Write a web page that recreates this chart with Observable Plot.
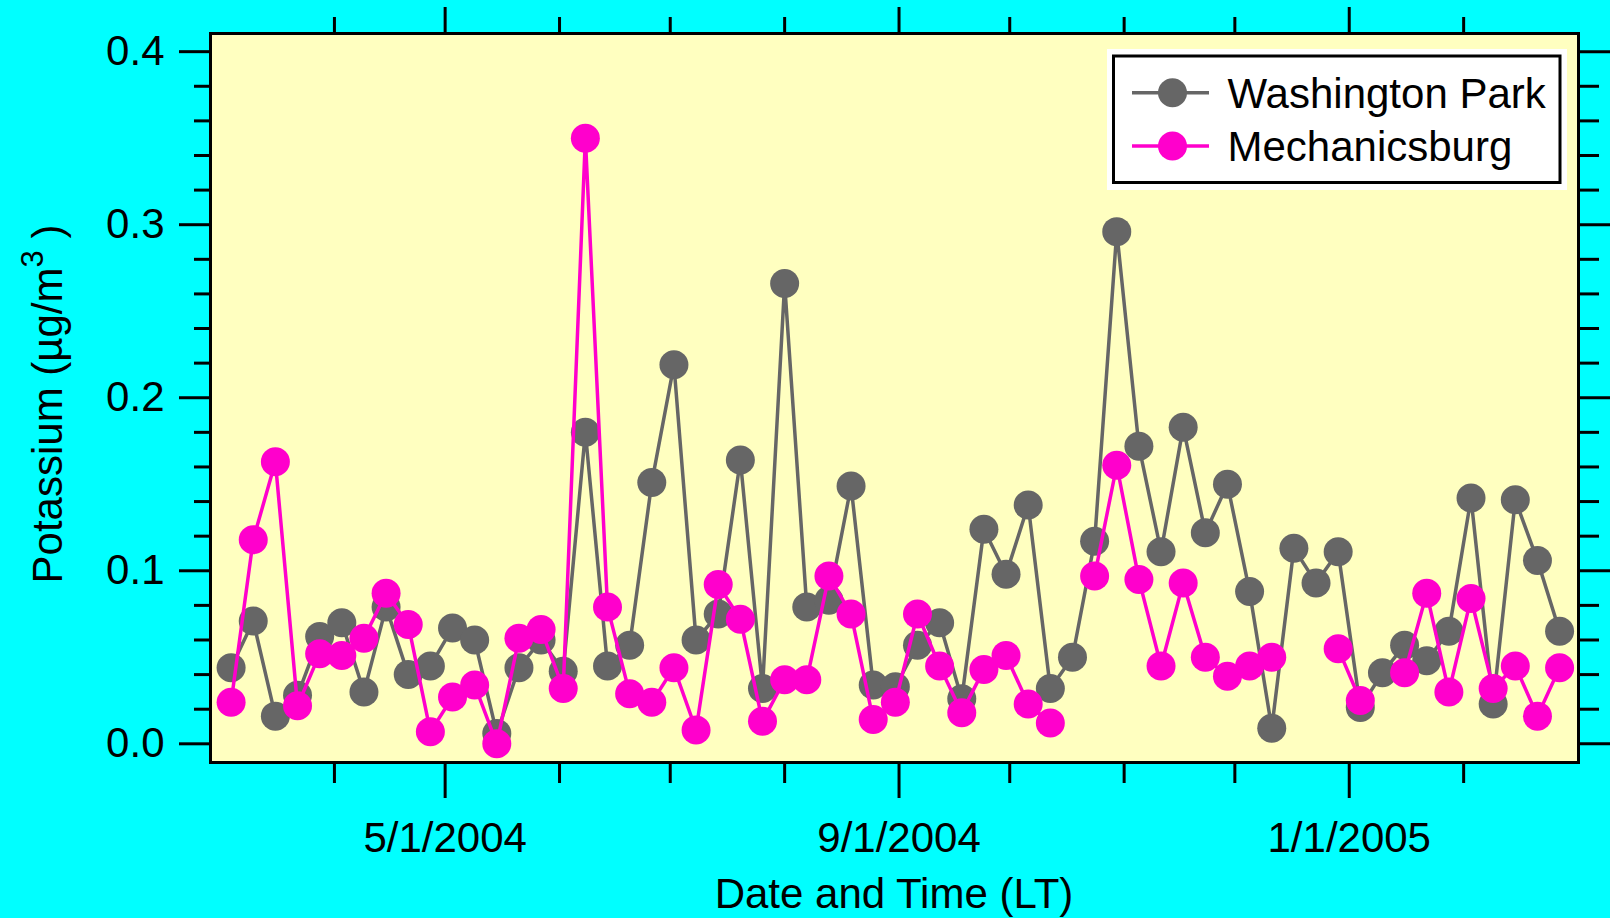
<!DOCTYPE html>
<html>
<head>
<meta charset="utf-8">
<script src="https://cdn.jsdelivr.net/npm/d3@7"></script>
<script src="https://cdn.jsdelivr.net/npm/@observablehq/plot@0.6"></script>
<style>
html, body { margin:0; padding:0; background:#00FFFF; }
#chart { width:1610px; height:918px; position:relative; overflow:hidden; }
</style>
</head>
<body>
<div id="chart"></div>
<script>
// ---- data ----
const dates = [
  "2004-03-04","2004-03-10","2004-03-16","2004-03-22","2004-03-28","2004-04-03","2004-04-09","2004-04-15",
  "2004-04-21","2004-04-27","2004-05-03","2004-05-09","2004-05-15","2004-05-21","2004-05-27","2004-06-02",
  "2004-06-08","2004-06-14","2004-06-20","2004-06-26","2004-07-02","2004-07-08","2004-07-14","2004-07-20",
  "2004-07-26","2004-08-01","2004-08-07","2004-08-13","2004-08-19","2004-08-25","2004-08-31","2004-09-06",
  "2004-09-12","2004-09-18","2004-09-24","2004-09-30","2004-10-06","2004-10-12","2004-10-18","2004-10-24",
  "2004-10-30","2004-11-05","2004-11-11","2004-11-17","2004-11-23","2004-11-29","2004-12-05","2004-12-11",
  "2004-12-17","2004-12-23","2004-12-29","2005-01-04","2005-01-10","2005-01-16","2005-01-22","2005-01-28",
  "2005-02-03","2005-02-09","2005-02-15","2005-02-21","2005-02-27"
];
const washingtonPark = [
  0.044, 0.071, 0.016, 0.028, 0.062, 0.070, 0.030, 0.079,
  0.040, 0.045, 0.067, 0.060, 0.006, 0.044, 0.060, 0.042,
  0.180, 0.045, 0.057, 0.151, 0.219, 0.060, 0.075, 0.164,
  0.032, 0.266, 0.079, 0.083, 0.149, 0.034, 0.033, 0.057,
  0.070, 0.026, 0.124, 0.098, 0.138, 0.032, 0.050, 0.117,
  0.296, 0.172, 0.111, 0.183, 0.122, 0.150, 0.088, 0.009,
  0.113, 0.093, 0.111, 0.021, 0.041, 0.057, 0.048, 0.065,
  0.142, 0.023, 0.141, 0.106, 0.065
];
const mechanicsburg = [
  0.024, 0.118, 0.163, 0.022, 0.052, 0.051, 0.061, 0.087,
  0.069, 0.007, 0.027, 0.034, 0.000, 0.061, 0.066, 0.032,
  0.350, 0.079, 0.029, 0.024, 0.044, 0.008, 0.092, 0.072,
  0.013, 0.037, 0.037, 0.097, 0.075, 0.014, 0.024, 0.075,
  0.045, 0.018, 0.043, 0.051, 0.023, 0.012, null, 0.097,
  0.161, 0.095, 0.045, 0.093, 0.050, 0.039, 0.045, 0.050,
  null, null, 0.055, 0.025, null, 0.041, 0.087, 0.030,
  0.084, 0.032, 0.045, 0.016, 0.044
];
const seriesNames = ["Washington Park", "Mechanicsburg"];
const xMajorTicks = ["2004-05-01", "2004-09-01", "2005-01-01"];
const xMinorTicks = ["2004-04-01","2004-06-01","2004-07-01","2004-08-01","2004-10-01","2004-11-01","2004-12-01","2005-02-01"];
const yMajorTicks = [0.0, 0.1, 0.2, 0.3, 0.4];
const yMinorTicks = [0.02,0.04,0.06,0.08,0.12,0.14,0.16,0.18,0.22,0.24,0.26,0.28,0.32,0.34,0.36,0.38];
const xLabel = "Date and Time (LT)";
const yLabel = ["Potassium (µg/m", "3", " )"];

// ---- styles ----
const colors = ["#666666", "#FF00CC"];
const font = "'Liberation Sans', Arial, Helvetica, sans-serif";

const parse = d3.utcParse("%Y-%m-%d");
const rows = dates.map((d, i) => ({date: parse(d), wp: washingtonPark[i], mb: mechanicsburg[i]}));
const xMaj = xMajorTicks.map(parse);
const xMin = xMinorTicks.map(parse);

// tick-only axes (fill none suppresses the labels)
const tickOnly = {stroke: "black", strokeWidth: 3, fill: "none", label: null};
const labelOnly = {tickSize: 0, label: null, fontSize: 42, fill: "black"};

const plot = Plot.plot({
  width: 1610,
  height: 918,
  marginLeft: 210,
  marginRight: 32,
  marginTop: 33,
  marginBottom: 156,
  style: {background: "transparent", fontFamily: font, fontSize: "42px", color: "black", overflow: "visible"},
  x: {type: "utc", domain: [new Date(Date.UTC(2004, 1, 27, 10)), new Date(Date.UTC(2005, 2, 4, 3))]},
  y: {type: "linear", domain: [-0.0108, 0.4105]},
  marks: [
    Plot.frame({fill: "#FFFFC0", stroke: "none"}),
    Plot.line(rows, {x: "date", y: "wp", stroke: colors[0], strokeWidth: 3.5}),
    Plot.dot(rows, {x: "date", y: "wp", r: 14.5, fill: colors[0], stroke: "none"}),
    Plot.line(rows, {x: "date", y: "mb", stroke: colors[1], strokeWidth: 3.5}),
    Plot.dot(rows, {x: "date", y: "mb", r: 14.5, fill: colors[1], stroke: "none"}),
    Plot.frame({stroke: "black", strokeWidth: 3, fill: "none"}),
    // bottom axis
    Plot.axisX(xMaj, {...tickOnly, anchor: "bottom", tickSize: 36}),
    Plot.axisX(xMin, {...tickOnly, anchor: "bottom", tickSize: 21}),
    Plot.axisX(xMaj, {...labelOnly, anchor: "bottom", tickPadding: 60, tickFormat: d3.utcFormat("%-m/%-d/%Y")}),
    // top axis
    Plot.axisX(xMaj, {...tickOnly, anchor: "top", tickSize: 27}),
    Plot.axisX(xMin, {...tickOnly, anchor: "top", tickSize: 17}),
    // left axis
    Plot.axisY(yMajorTicks, {...tickOnly, anchor: "left", tickSize: 31}),
    Plot.axisY(yMinorTicks, {...tickOnly, anchor: "left", tickSize: 16}),
    Plot.axisY(yMajorTicks, {...labelOnly, anchor: "left", tickPadding: 46, tickFormat: d3.format(".1f")}),
    // right axis
    Plot.axisY(yMajorTicks, {...tickOnly, anchor: "right", tickSize: 34}),
    Plot.axisY(yMinorTicks, {...tickOnly, anchor: "right", tickSize: 20})
  ]
});

document.getElementById("chart").appendChild(plot);
const svg = d3.select(plot);

// axis titles
svg.append("text")
  .attr("x", 894).attr("y", 908)
  .attr("text-anchor", "middle")
  .attr("font-family", font).attr("font-size", 42).attr("fill", "black")
  .text(xLabel);

const yt = svg.append("text")
  .attr("transform", "translate(62,404) rotate(-90)")
  .attr("text-anchor", "middle")
  .attr("font-family", font).attr("font-size", 42).attr("fill", "black");
yt.append("tspan").text(yLabel[0]);
yt.append("tspan").attr("dy", -19).attr("font-size", 31).text(yLabel[1]);
yt.append("tspan").attr("dy", 19).text(yLabel[2]);

// legend
const lg = svg.append("g");
lg.append("rect").attr("x", 1107).attr("y", 49).attr("width", 460).attr("height", 141).attr("fill", "white");
lg.append("rect").attr("x", 1113.5).attr("y", 56).attr("width", 446.5).attr("height", 126.5)
  .attr("fill", "none").attr("stroke", "black").attr("stroke-width", 3);
seriesNames.forEach((name, i) => {
  const cy = 92.7 + i * 53.3;
  lg.append("line").attr("x1", 1132).attr("x2", 1209).attr("y1", cy).attr("y2", cy)
    .attr("stroke", colors[i]).attr("stroke-width", 3.5);
  lg.append("circle").attr("cx", 1172.5).attr("cy", cy).attr("r", 14.5).attr("fill", colors[i]);
  lg.append("text").attr("x", 1227.5).attr("y", cy + 15)
    .attr("text-anchor", "start")
    .attr("font-family", font).attr("font-size", 42).attr("fill", "black").text(name);
});
</script>
</body>
</html>
